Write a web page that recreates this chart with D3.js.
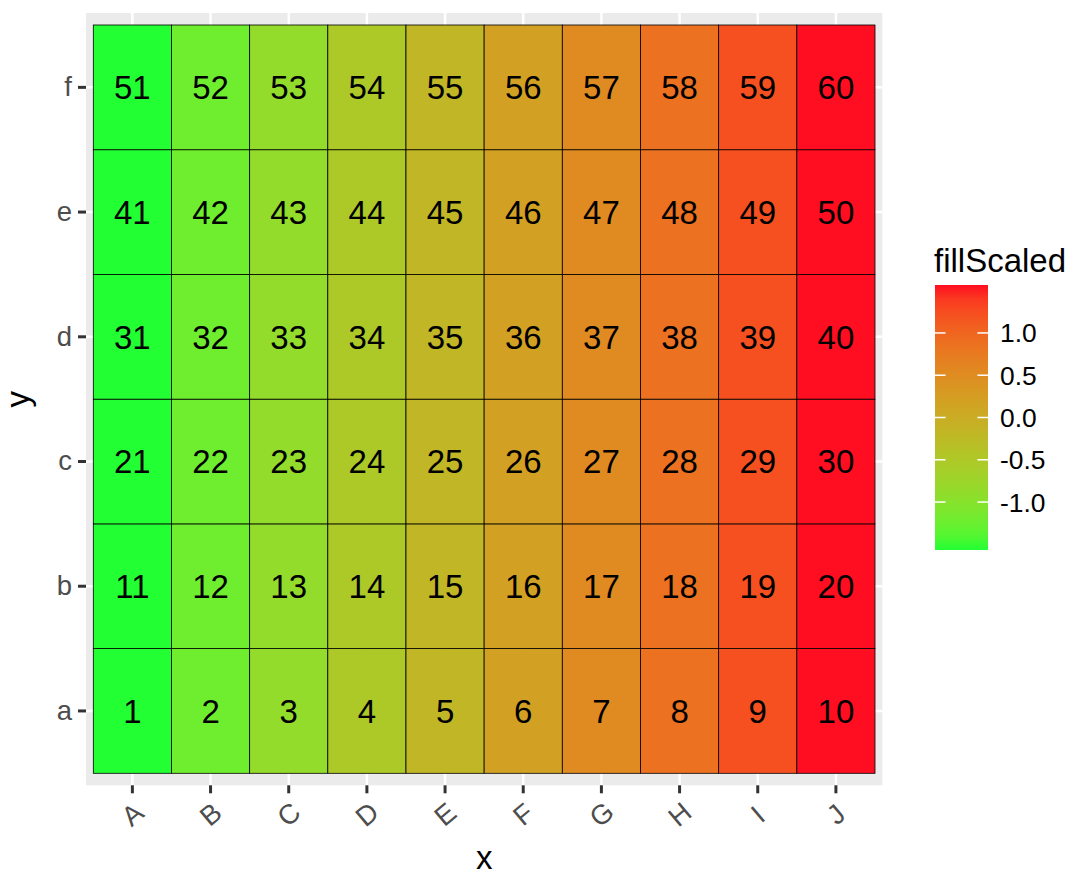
<!DOCTYPE html>
<html><head><meta charset="utf-8">
<script src="https://cdn.jsdelivr.net/npm/d3@7"></script>
<style>
body{margin:0;background:#fff}
svg{display:block}
text{font-family:"Liberation Sans",Arial,Helvetica,sans-serif}
</style>
</head><body>
<svg id="chart" width="1080" height="878"></svg>
<script>
// ---- data ----
const xCategories = ["A","B","C","D","E","F","G","H","I","J"];
const yCategories = ["a","b","c","d","e","f"];
const rowA = [1,2,3,4,5,6,7,8,9,10];
const rowB = [11,12,13,14,15,16,17,18,19,20];
const rowC = [21,22,23,24,25,26,27,28,29,30];
const rowD = [31,32,33,34,35,36,37,38,39,40];
const rowE = [41,42,43,44,45,46,47,48,49,50];
const rowF = [51,52,53,54,55,56,57,58,59,60];
const fillScaled = [-1.567,-1.219,-0.870,-0.522,-0.174,0.174,0.522,0.870,1.219,1.567];
const legendTicks = [-1.0,-0.5,0.0,0.5,1.0];
const legendTickLabels = ["-1.0","-0.5","0.0","0.5","1.0"];
const lowColor = "#22FF33", highColor = "#FF0D20";

const rows = [rowA,rowB,rowC,rowD,rowE,rowF];
const cells = [];
rows.forEach((r,i)=>r.forEach((v,j)=>cells.push({x:xCategories[j], y:yCategories[i], value:v, fill:fillScaled[j]})));

// ---- layout ----
const svg = d3.select("#chart");
const tileLeft = 93.3, tileRight = 875, tileTop = 25, tileBottom = 773.3;
const padX = 7.3, padY = 12;
const panel = {x0: tileLeft - padX, x1: tileRight + padX, y0: tileTop - padY, y1: tileBottom + padY};

const x = d3.scaleBand().domain(xCategories).range([tileLeft, tileRight]);
const y = d3.scaleBand().domain(yCategories).range([tileBottom, tileTop]);
const ext = d3.extent(fillScaled);
const color = d3.scaleLinear().domain(ext).range([lowColor, highColor]).interpolate(d3.interpolateLab);

// panel background
svg.append("rect").attr("x", panel.x0).attr("y", panel.y0)
  .attr("width", panel.x1 - panel.x0).attr("height", panel.y1 - panel.y0).attr("fill", "#EBEBEB");

// grid lines
const g = svg.append("g");
g.selectAll("line.vx").data(xCategories).join("line")
  .attr("x1", d => x(d) + x.bandwidth()/2).attr("x2", d => x(d) + x.bandwidth()/2)
  .attr("y1", panel.y0).attr("y2", panel.y1).attr("stroke", "#fff").attr("stroke-width", 2.5);
g.selectAll("line.hy").data(yCategories).join("line")
  .attr("y1", d => y(d) + y.bandwidth()/2).attr("y2", d => y(d) + y.bandwidth()/2)
  .attr("x1", panel.x0).attr("x2", panel.x1).attr("stroke", "#fff").attr("stroke-width", 2.5);

// tiles
svg.append("g").selectAll("rect").data(cells).join("rect")
  .attr("x", d => x(d.x)).attr("y", d => y(d.y))
  .attr("width", x.bandwidth()).attr("height", y.bandwidth())
  .attr("fill", d => color(d.fill)).attr("stroke", "#000").attr("stroke-width", 0.8);

svg.append("g").selectAll("text").data(cells).join("text")
  .attr("x", d => x(d.x) + x.bandwidth()/2).attr("y", d => y(d.y) + y.bandwidth()/2)
  .attr("dy", "0.36em").attr("text-anchor", "middle")
  .attr("font-size", "33px").attr("fill", "#000").text(d => d.value);

// axes
const xAxis = svg.append("g").attr("transform", `translate(0,${panel.y1})`)
  .call(d3.axisBottom(x).tickSize(8).tickPadding(0));
xAxis.select(".domain").remove();
xAxis.selectAll(".tick line").attr("stroke", "#333").attr("stroke-width", 3);
xAxis.selectAll(".tick text").attr("y", 0).attr("dy", "0.35em")
  .attr("transform", "translate(0,29) rotate(-40)")
  .attr("text-anchor", "middle").attr("font-size", "27.5px").attr("fill", "#4D4D4D")
  .attr("font-family", "Liberation Sans, Arial, sans-serif");

const yAxis = svg.append("g").attr("transform", `translate(${panel.x0},0)`)
  .call(d3.axisLeft(y).tickSize(8).tickPadding(6));
yAxis.select(".domain").remove();
yAxis.selectAll(".tick line").attr("stroke", "#333").attr("stroke-width", 3);
yAxis.selectAll(".tick text").attr("font-size", "27.5px").attr("fill", "#4D4D4D")
  .attr("font-family", "Liberation Sans, Arial, sans-serif");

// axis titles
svg.append("text").attr("x", (panel.x0 + panel.x1)/2).attr("y", 869)
  .attr("text-anchor", "middle").attr("font-size", "33px").attr("fill", "#000").text("x");
svg.append("text").attr("transform", `translate(29,${(panel.y0 + panel.y1)/2}) rotate(-90)`)
  .attr("text-anchor", "middle").attr("font-size", "33px").attr("fill", "#000").text("y");

// legend
const lg = {x0: 935, x1: 988, y0: 285, y1: 550};
const ly = d3.scaleLinear().domain(ext).range([lg.y1, lg.y0]);
const defs = svg.append("defs");
const grad = defs.append("linearGradient").attr("id", "lgGrad")
  .attr("x1", 0).attr("y1", 1).attr("x2", 0).attr("y2", 0);
d3.range(0, 1.0001, 0.05).forEach(t => {
  grad.append("stop").attr("offset", t).attr("stop-color", color(ext[0] + t*(ext[1]-ext[0])));
});
svg.append("text").attr("x", 934).attr("y", 272).attr("font-size", "33px").attr("fill", "#000").text("fillScaled");
svg.append("rect").attr("x", lg.x0).attr("y", lg.y0).attr("width", lg.x1 - lg.x0).attr("height", lg.y1 - lg.y0)
  .attr("fill", "url(#lgGrad)");
const tl = (lg.x1 - lg.x0) / 5;
const lt = svg.append("g");
lt.selectAll("line.l").data(legendTicks).join("line")
  .attr("x1", lg.x0).attr("x2", lg.x0 + tl).attr("y1", d => ly(d)).attr("y2", d => ly(d))
  .attr("stroke", "#fff").attr("stroke-width", 1.5);
lt.selectAll("line.r").data(legendTicks).join("line")
  .attr("x1", lg.x1 - tl).attr("x2", lg.x1).attr("y1", d => ly(d)).attr("y2", d => ly(d))
  .attr("stroke", "#fff").attr("stroke-width", 1.5);
lt.selectAll("text").data(legendTicks).join("text")
  .attr("x", 1000).attr("y", d => ly(d)).attr("dy", "0.36em")
  .attr("font-size", "26.4px").attr("fill", "#000").text((d,i) => legendTickLabels[i]);
</script>
</body></html>
